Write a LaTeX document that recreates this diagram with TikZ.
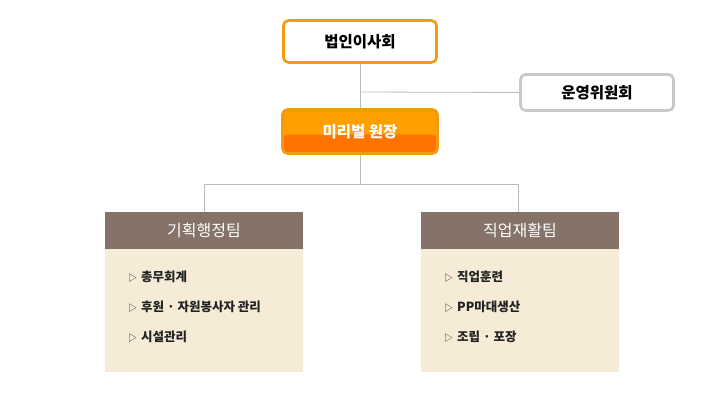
\documentclass[tikz,border=0pt]{standalone}
\usepackage{fontspec}
\usepackage{xcolor}
\setmainfont{Noto Sans CJK KR}
\usepackage{tikz}
\usetikzlibrary{positioning,calc}

\definecolor{boardorange}{HTML}{F39A12}
\definecolor{headtop}{HTML}{FFA000}
\definecolor{headbottom}{HTML}{FF7300}
\definecolor{linegray}{HTML}{BBBBBB}
\definecolor{boxgray}{HTML}{C8C8C8}
\definecolor{teambrown}{HTML}{857268}
\definecolor{teambeige}{HTML}{F5EBD7}
\definecolor{itemtext}{HTML}{222222}

\newcommand{\duty}{{\fontsize{9}{10}\selectfont\mdseries ▷}\hspace{4pt}}

\begin{document}
\begin{tikzpicture}[x=1pt,y=-1pt,
  board/.style={rectangle, draw=boardorange, line width=2.6pt, rounded corners=5pt, fill=white, minimum width=153pt, minimum height=42pt, inner sep=0pt, font=\fontsize{15.5}{18}\selectfont\bfseries},
  committee/.style={rectangle, draw=boxgray, line width=2.6pt, rounded corners=5pt, fill=white, minimum width=153pt, minimum height=36pt, inner sep=0pt, font=\fontsize{15.5}{18}\selectfont\bfseries},
  director/.style={rectangle, draw=boardorange, line width=2.6pt, rounded corners=5pt, fill=headtop, minimum width=155pt, minimum height=44pt, inner sep=0pt, text=white, font=\fontsize{15.5}{18}\selectfont\bfseries,
    path picture={\fill[headbottom] ($(path picture bounding box.west)+(0,3)$) rectangle (path picture bounding box.south east);}},
  teamhead/.style={rectangle, fill=teambrown, minimum width=198pt, minimum height=37pt, inner sep=0pt, text=white, font=\fontsize{16}{18}\selectfont},
  teambody/.style={rectangle, fill=teambeige, minimum width=198pt, minimum height=123pt, inner sep=0pt},
  item/.style={anchor=west, inner sep=0pt, text=itemtext, font=\fontsize{12.5}{14}\selectfont\bfseries},
  link/.style={draw=linegray, line width=0.8pt}
]
  \useasboundingbox (0,0) rectangle (720,412);

  \node[board] (board) at (360,41.5) {법인이사회};
  \node[committee] (council) at (597,92.5) {운영위원회};
  \node[director] (chief) at (360,131.5) {미리벌 원장};

  \coordinate (split) at (360,92);
  \coordinate (fork) at (360,184);
  \coordinate (forkL) at (204,184);
  \coordinate (forkR) at (518,184);

  \node[teamhead] (planhead) at (204,230.5) {기획행정팀};
  \node[teambody, below=0pt of planhead] (planbody) {};
  \node[teamhead] (workhead) at (520,230.5) {직업재활팀};
  \node[teambody, below=0pt of workhead] (workbody) {};

  % connectors
  \draw[link] (board.south) -- (chief.north);
  \draw[link] (split) -- (council.west);
  \draw[link] (chief.south) -- (fork);
  \draw[link] (forkL) -- (forkR);
  \draw[link] (forkL) -- (planhead.north);
  \draw[link] (forkR) -- (workhead.north -| forkR);

  % team duties
  \node[item] (plan1) at (128,277) {\duty 총무회계};
  \node[item] (plan2) at (128,307) {\duty 후원 · 자원봉사자 관리};
  \node[item] (plan3) at (128,337) {\duty 시설관리};
  \node[item] (work1) at (444,277) {\duty 직업훈련};
  \node[item] (work2) at (444,307) {\duty PP마대생산};
  \node[item] (work3) at (444,337) {\duty 조립 · 포장};
\end{tikzpicture}
\end{document}
